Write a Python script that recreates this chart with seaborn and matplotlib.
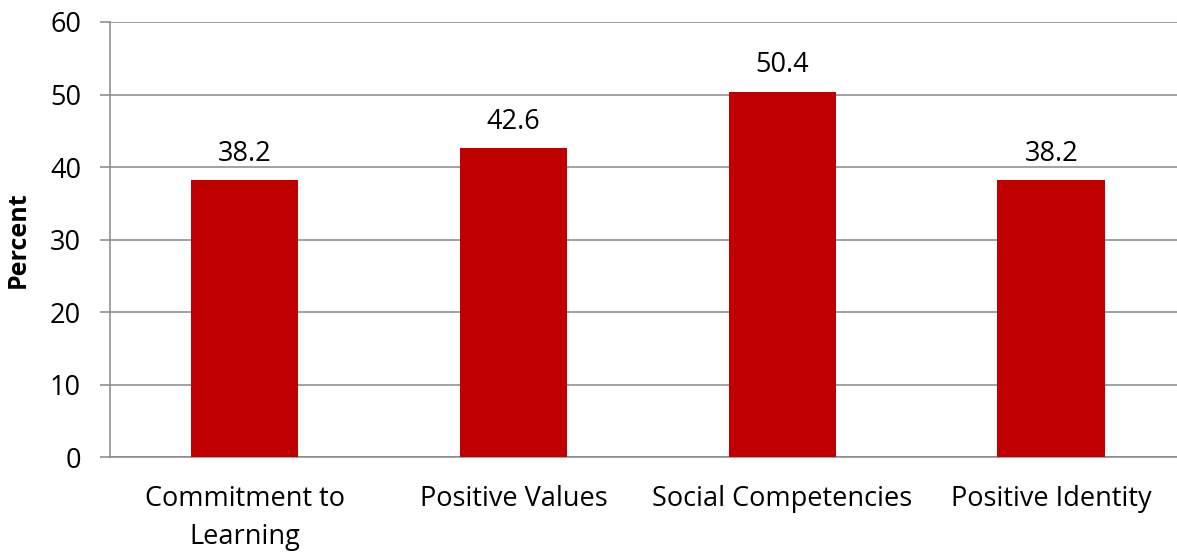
import seaborn as sns
import matplotlib.pyplot as plt
import pandas as pd

# chart data
categories = ["Commitment to\nLearning", "Positive Values", "Social Competencies", "Positive Identity"]
percent = [38.2, 42.6, 50.4, 38.2]
y_ticks = [0, 10, 20, 30, 40, 50, 60]

df = pd.DataFrame({"category": categories, "percent": percent})

sns.set_style("white")
plt.rcParams["font.family"] = ["Open Sans", "DejaVu Sans"]
plt.rcParams["text.color"] = "black"
plt.rcParams["axes.labelcolor"] = "black"
plt.rcParams["xtick.labelcolor"] = "black"
plt.rcParams["ytick.labelcolor"] = "black"

fig = plt.figure(figsize=(11.77, 5.55), dpi=100)
ax = fig.add_axes([0.0935, 0.1757, 0.9139, 0.7847])

sns.barplot(data=df, x="category", y="percent", color="#C00000",
            width=0.4, saturation=1, linewidth=0, ax=ax, zorder=3)

# value labels above bars
for i, v in enumerate(percent):
    ax.annotate(f"{v:.1f}", (i, v), xytext=(0, 9), textcoords="offset points",
                ha="center", va="bottom", fontsize=19.5)

ax.set_ylim(0, 60)
ax.set_yticks(y_ticks)
ax.set_xlim(-0.5, len(categories) - 0.5)
ax.yaxis.grid(True, color="#888888", linewidth=1.1, zorder=0)
ax.set_axisbelow(True)

for side in ["top", "right"]:
    ax.spines[side].set_visible(False)
for side in ["left", "bottom"]:
    ax.spines[side].set_color("#888888")
    ax.spines[side].set_linewidth(1.1)

ax.set_xticks([i - 0.5 for i in range(len(categories) + 1)], minor=True)
ax.tick_params(axis="x", which="major", length=0, pad=20, labelsize=19.5)
ax.tick_params(axis="x", which="minor", length=7, width=1.1, color="#888888", direction="out")
ax.tick_params(axis="y", length=7, width=1.1, color="#888888", direction="out",
               labelsize=19.5, pad=14, left=True)
for lbl in ax.get_xticklabels():
    lbl.set_linespacing(1.45)

ax.set_xlabel("")
ax.set_ylabel("Percent", fontsize=18, fontweight="bold", labelpad=14)

fig.savefig("out.png", dpi=100)
